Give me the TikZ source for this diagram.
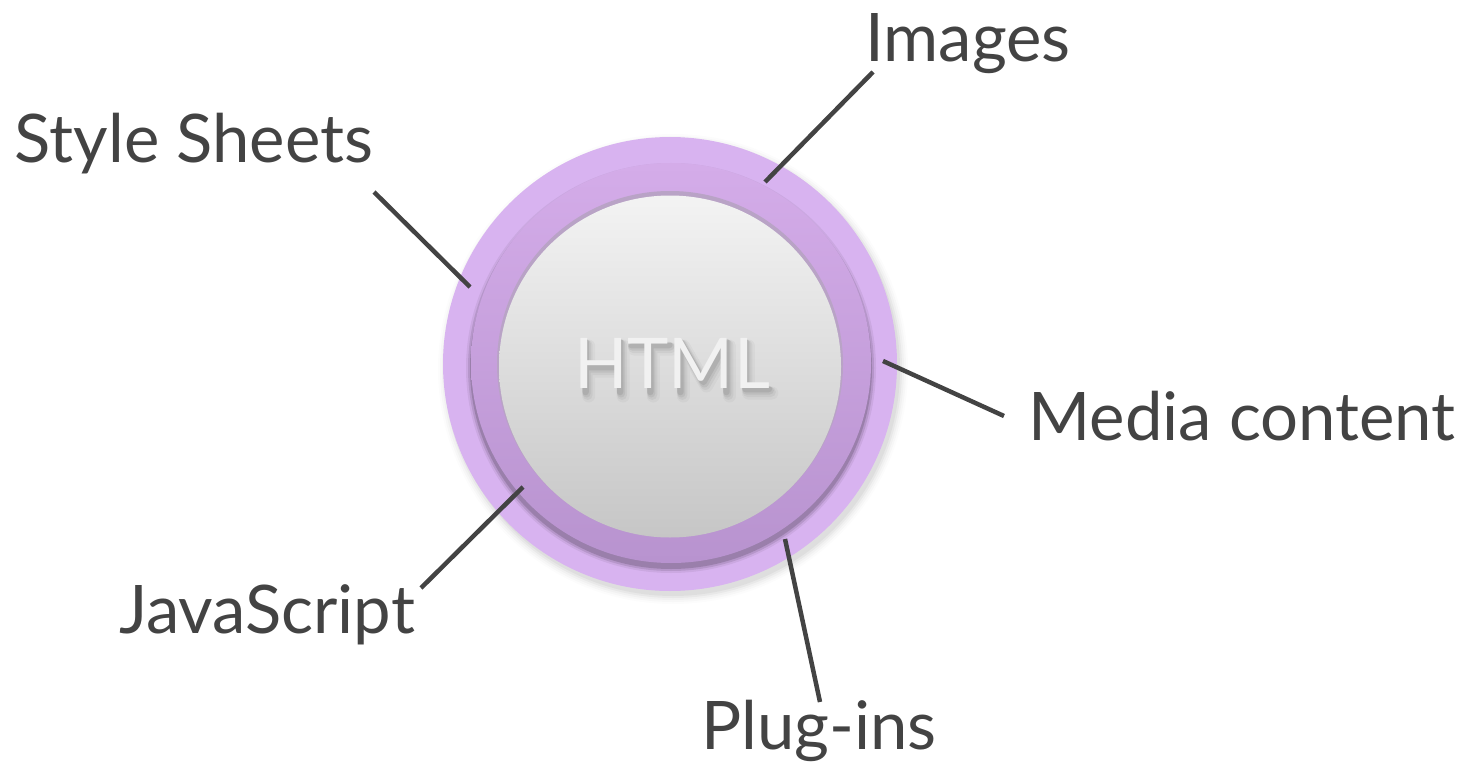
\documentclass[tikz,border=0pt]{standalone}
\usepackage{fontspec}
\setmainfont{Lato}
\usetikzlibrary{calc}
\definecolor{outerc}{HTML}{D8B3F0}
\definecolor{midtop}{HTML}{D4ACE9}
\definecolor{midbot}{HTML}{B893CF}
\definecolor{graytop}{HTML}{F3F3F3}
\definecolor{graybot}{HTML}{C6C6C6}
\definecolor{insetc}{HTML}{B9A3C6}
\definecolor{ink}{HTML}{434343}
\definecolor{htmlc}{HTML}{F1F1F1}
\newcommand\htmlfont{\fontsize{70}{84}\selectfont}
\newlength\lenH \newlength\lenHT \newlength\lenHTM \newlength\lenHTML
\begin{document}%
\settowidth\lenH{\htmlfont H}\settowidth\lenHT{\htmlfont HT}%
\settowidth\lenHTM{\htmlfont HTM}\settowidth\lenHTML{\htmlfont HTML}%
\pgfmathsetmacro\aH{\lenH}\pgfmathsetmacro\aHT{\lenHT}%
\pgfmathsetmacro\aHTM{\lenHTM}\pgfmathsetmacro\aHTML{\lenHTML}%
\begin{tikzpicture}[x=1pt,y=-1pt,
  lbl/.style={font=\fontsize{67}{80}\selectfont, text=ink, inner sep=0pt, anchor=base},
  htmltext/.style={font=\htmlfont, inner sep=0pt, anchor=base},
  connector/.style={draw=ink, line width=4.5pt, line cap=butt}]
\useasboundingbox (0,0) rectangle (1479,770);
\coordinate (c) at (670,364);
% outer soft shadow
\foreach \k/\o in {9/0.012,7/0.018,5/0.025,3/0.035,1/0.045}
  \fill[black,opacity=\o] ($(c)+(3,5)$) circle[radius=226pt+\k pt];
% outer ring
\fill[outerc] (c) circle[radius=227pt];
% middle ring shadow
\foreach \k/\o in {5/0.06,3/0.1,1/0.15}
  \fill[black,opacity=\o] ($(c)+(1,4)$) circle[radius=200pt+\k pt];
% middle ring
\shade[top color=midtop,bottom color=midbot] ($(c)+(1,-1)$) circle[radius=200pt];
% inset of gray disc
\fill[insetc] (c) circle[radius=173pt];
\shade[top color=graytop,bottom color=graybot] ($(c)+(0,2.5)$) circle[radius=171pt];
% glyph positions of HTML
\pgfmathsetmacro\xO{672-\aHTML/2}%
\pgfmathsetmacro\yb{388}\pgfmathsetmacro\yt{388-50}\pgfmathsetmacro\yc{388-25}%
\pgfmathsetmacro\hA{\xO+9.5}\pgfmathsetmacro\hB{\xO+\aH-9.5}%
\pgfmathsetmacro\tA{\xO+\aH+1.5}\pgfmathsetmacro\tB{\xO+\aHT-1.5}\pgfmathsetmacro\tC{(\tA+\tB)/2}%
\pgfmathsetmacro\mA{\xO+\aHT+9.5}\pgfmathsetmacro\mB{\xO+\aHTM-9.5}\pgfmathsetmacro\mC{(\mA+\mB)/2}%
\pgfmathsetmacro\lA{\xO+\aHTM+9.5}\pgfmathsetmacro\lB{\xO+\aHTML-3}%
% soft shadow under the HTML letters
\foreach \dx/\dy/\lw/\op in {5/8/13/0.03,4/7/10/0.045,3/5.5/8/0.06,2/4/6.5/0.08}
  \draw[black, opacity=\op, line width=\lw pt, line cap=round, line join=round, shift={(\dx,\dy)}]
    (\hA,\yt) -- (\hA,\yb) (\hB,\yt) -- (\hB,\yb) (\hA,\yc) -- (\hB,\yc)
    (\tA,\yt+3) -- (\tB,\yt+3) (\tC,\yt) -- (\tC,\yb)
    (\mA,\yb) -- (\mA,\yt) -- (\mC,\yb-10) -- (\mB,\yt) -- (\mB,\yb)
    (\lA,\yt) -- (\lA,\yb-3) -- (\lB,\yb-3);
\node[htmltext,text=htmlc] (html) at (672,388) {HTML};
% labels
\node[lbl] (ss) at (194,163) {Style Sheets};
\node[lbl] (im) at (968,62) {Images};
\node[lbl] (mc) at (1242,440) {Media content};
\node[lbl] (js) at (267,633) {JavaScript};
\node[lbl] (pi) at (819,749) {Plug-ins};
% connector ends
\coordinate (ssA) at (374,192); \coordinate (ssB) at (470,287);
\coordinate (imA) at (873,72);  \coordinate (imB) at (765,182);
\coordinate (mcA) at (1004,416); \coordinate (mcB) at (883,361);
\coordinate (jsA) at (421,588); \coordinate (jsB) at (523,487);
\coordinate (piA) at (820,702); \coordinate (piB) at (785,539);
\draw[connector] (ssA) -- (ssB);
\draw[connector] (imA) -- (imB);
\draw[connector] (mcA) -- (mcB);
\draw[connector] (jsA) -- (jsB);
\draw[connector] (piA) -- (piB);
\end{tikzpicture}%
\end{document}
